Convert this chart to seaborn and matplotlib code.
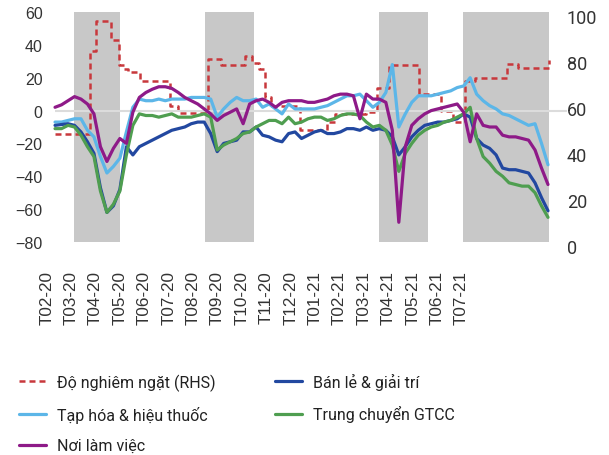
import matplotlib

matplotlib.use("Agg")

import matplotlib.pyplot as plt
import matplotlib.transforms as mtransforms
import numpy as np
import pandas as pd
import seaborn as sns

# weekly samples, day 0 = 2020-02-15
dates = pd.date_range("2020-02-15", periods=77, freq="7D")

ban_le = [
    -9, -8.5, -8, -9, -13, -19, -26, -47, -62, -58, -48, -22, -27, -22, -20, -18,
    -16, -14, -12, -11, -10, -8, -7, -7, -14, -25, -20, -19, -18, -13, -13, -10,
    -15, -16, -18, -19, -14, -13, -17, -15, -13, -12, -14, -14, -13, -11, -11, -12,
    -10, -12, -11, -12, -16, -27, -22, -16, -12, -9, -8, -7, -7, -6, -5, -2,
    -4, -17, -21, -23, -27, -35, -36, -36, -37, -38, -44, -53, -61,
]
tap_hoa = [
    -7, -7, -6, -5, -5, -12, -16, -28, -38, -34, -29, -13, 2, 7, 6, 6,
    7, 6, 7, 7, 7, 8, 8, 8, 7, -4, 1, 5, 8, 6, 6, 7,
    2, 4, 1, -2, 4, 1, 1, 1, 1, 2, 3, 5, 7, 9, 9, 10,
    6, 2, 5, 11, 28, -10, -2, 5, 9, 9, 9, 10, 11, 12, 14, 15,
    20, 10, 6, 3, 1, -2, -3, -5, -7, -9, -8, -20, -33,
]
trung_chuyen = [
    -11, -11, -9, -10, -15, -22, -28, -49, -62, -57, -49, -27, -9, -2, -3, -3,
    -4, -3, -2, -4, -4, -4, -3, -2, -4, -24, -21, -19, -17, -14, -13, -10,
    -8, -6, -6, -8, -4, -8, -7, -5, -4, -4, -6, -5, -3, -2, -2, -3,
    -7, -10, -9, -12, -21, -37, -26, -20, -15, -12, -10, -9, -7, -6, -4, -2,
    2, -17, -28, -32, -37, -40, -44, -45, -46, -46, -50, -58, -65,
]
noi_lam_viec = [
    2, 3.5, 6, 8.5, 7, 4, -2, -22, -31, -23, -17, -20, -1, 8, 11, 13,
    14.5, 14.5, 13.5, 11, 8, 6, 4, 1, -2, -6, -3, -1, 1, -8, 4, 6,
    7, 5, 2, 5, 6, 6, 6, 5, 5, 6, 7, 9, 10, 10, 9, -5,
    10, 7, 7, 5, -12, -68, -22, -9, -5, -2, 0, 1, 2, 3, 4, -1,
    -19, -2, -9, -10, -10, -15, -16, -16, -17, -18, -24, -35, -45,
]

# stringency index (RHS), step changes
stringency_dates = pd.to_datetime([
    "2020-02-15", "2020-03-24", "2020-03-30", "2020-04-15", "2020-04-24",
    "2020-04-29", "2020-05-04", "2020-05-17", "2020-06-18", "2020-06-27",
    "2020-07-29", "2020-08-12", "2020-09-07", "2020-09-15", "2020-09-22",
    "2020-09-29", "2020-10-05", "2020-11-05", "2020-12-04", "2020-12-13",
    "2021-01-16", "2021-01-27", "2021-02-09", "2021-03-14", "2021-04-06",
    "2021-04-20", "2021-05-02", "2021-05-13", "2021-06-17", "2021-06-29",
    "2021-08-01",
])
stringency = [
    47, 83, 96, 88, 77, 75, 74, 70, 59, 56,
    79.5, 77, 81, 78, 75, 63, 59, 48.5, 52, 55.5,
    56.5, 67, 77, 64.5, 57, 52, 70, 71.5, 77.5, 75.5,
    79,
]

month_labels = [
    "T02-20", "T03-20", "T04-20", "T05-20", "T06-20", "T07-20", "T08-20", "T09-20",
    "T10-20", "T11-20", "T12-20", "T01-21", "T02-21", "T03-21", "T04-21", "T05-21",
    "T06-21", "T07-21",
]

waves = [
    ("2020-03-07", "2020-04-25"),
    ("2020-07-26", "2020-09-17"),
    ("2021-01-30", "2021-03-24"),
    ("2021-04-30", "2021-08-01"),
]

start = dates[0]
day = (dates - start).days
mobility = pd.DataFrame({
    "day": day,
    "ban_le": ban_le,
    "tap_hoa": tap_hoa,
    "trung_chuyen": trung_chuyen,
    "noi_lam_viec": noi_lam_viec,
})
strict = pd.DataFrame({"day": (stringency_dates - start).days, "value": stringency})

sns.set_theme(style="white")
plt.rcParams["font.family"] = ["Liberation Sans", "DejaVu Sans"]

fig = plt.figure(figsize=(6.09, 4.56), dpi=100)
ax = fig.add_axes([44 / 609, 1 - 243 / 456, (567 - 44) / 609, 230 / 456])
ax2 = ax.twinx()

x_lo, x_hi = -11.9, 552.5
# shading sits on the back axes
for a, b in waves:
    ax2.axvspan((pd.Timestamp(a) - start).days, (pd.Timestamp(b) - start).days,
                color="#c8c8c8", lw=0, zorder=0)
ax.hlines(0, 0, x_hi, color="#dcdcdc", lw=1.5, zorder=1)

lw = 2.3
sns.lineplot(data=strict, x="day", y="value", color="#c8383c", lw=1.8, ax=ax2,
             drawstyle="steps-post", linestyle=(0, (2.4, 1.6)),
             label="Độ nghiêm ngặt (RHS)", zorder=2)
sns.lineplot(data=mobility, x="day", y="tap_hoa", color="#5cb6e8", lw=lw, ax=ax,
             label="Tạp hóa & hiệu thuốc", zorder=3)
sns.lineplot(data=mobility, x="day", y="ban_le", color="#2248a0", lw=lw, ax=ax,
             label="Bán lẻ & giải trí", zorder=3)
sns.lineplot(data=mobility, x="day", y="trung_chuyen", color="#4f9e50", lw=lw, ax=ax,
             label="Trung chuyển GTCC", zorder=3)
sns.lineplot(data=mobility, x="day", y="noi_lam_viec", color="#8e1a88", lw=lw, ax=ax,
             label="Nơi làm việc", zorder=4)

ax.set_zorder(ax2.get_zorder() + 1)
ax.patch.set_visible(False)

ax.set_xlim(x_lo, x_hi)
ax.set_ylim(-80, 60)
ax2.set_ylim(0, 100)
ax.set_yticks(np.arange(-80, 61, 20))
ax2.set_yticks(np.arange(0, 101, 20))
ax.set_xticks([])
ax.tick_params(axis="y", length=0, pad=1, labelsize=11.5, labelcolor="#333333")
ax2.tick_params(axis="y", length=0, pad=0, labelsize=13, labelcolor="#333333")
ax.set_xlabel("")
ax.set_ylabel("")
ax2.set_ylabel("")
for a in (ax, ax2):
    for s in a.spines.values():
        s.set_visible(False)

# month labels, evenly spaced under the plot
for k, lab in enumerate(month_labels):
    ax.annotate(lab, xy=(-9.0 + 26.34 * k, 0), xycoords=("data", "axes fraction"),
                xytext=(0, -20), textcoords="offset points", rotation=90,
                ha="center", va="top", fontsize=12.3, color="#333333",
                annotation_clip=False)

h1, l1 = ax.get_legend_handles_labels()
h2, l2 = ax2.get_legend_handles_labels()
ax.get_legend().remove()
ax2.get_legend().remove()
lookup = dict(zip(l1 + l2, h1 + h2))
order = ["Độ nghiêm ngặt (RHS)", "Tạp hóa & hiệu thuốc", "Nơi làm việc",
         "Bán lẻ & giải trí", "Trung chuyển GTCC"]
fig.legend([lookup[k] for k in order], order, ncol=2, loc="upper left",
           bbox_to_anchor=(11 / 609, 1 - 366 / 456), frameon=False,
           prop={"family": ["Roboto", "DejaVu Sans"], "size": 11.5},
           handlelength=1.7, handletextpad=0.7, columnspacing=3.7,
           labelspacing=0.95, borderpad=0, labelcolor="#222222")

# right-axis labels sit a little lower in the original
shift = mtransforms.ScaledTranslation(0, -4 / 100, fig.dpi_scale_trans)
for lab in ax2.get_yticklabels():
    lab.set_fontfamily(["Roboto", "DejaVu Sans"])
    lab.set_transform(lab.get_transform() + shift)

fig.savefig("out.png", dpi=100)
